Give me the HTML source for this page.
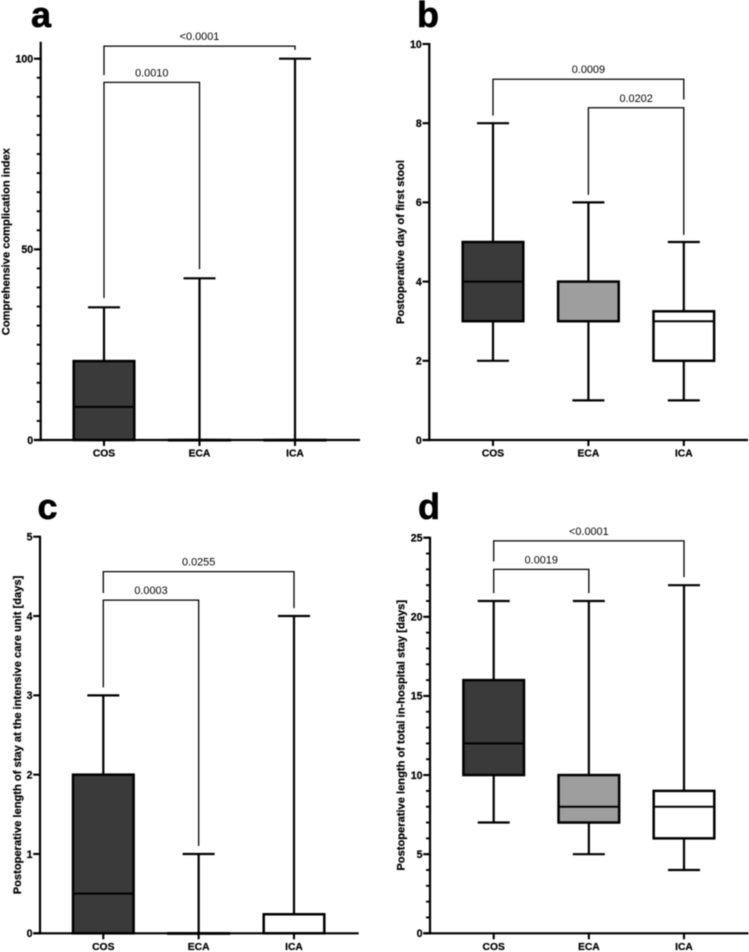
<!DOCTYPE html>
<html lang="en">
<head>
<meta charset="utf-8">
<title>Postoperative outcomes box plots</title>
<style>
  html, body { margin: 0; padding: 0; background: #fff; }
  body { width: 749px; height: 952px; overflow: hidden; }
  svg { display: block; filter: blur(0.4px); font-family: "Liberation Sans", Arial, sans-serif; }
</style>
</head>
<body>
<svg id="figure" xmlns="http://www.w3.org/2000/svg" width="749" height="952" viewBox="0 0 749 952"></svg>
<script>
// ---- shared data ----
const categories = ['COS', 'ECA', 'ICA'];
const boxFills = ['#3a3a3a', '#9e9e9e', '#ffffff'];

// ---- panel a ----
const aMin = [0, 0, 0];
const aQ1 = [0, 0, 0];
const aMedian = [8.7, 0, 0];
const aQ3 = [20.7, 0, 0];
const aMax = [34.8, 42.4, 100];
const aTicks = [0, 50, 100];
const aMinorStep = 5;
const aPValues = ['<0.0001', '0.0010'];
const aBracketFrom = [0, 0];
const aBracketTo = [2, 1];
const aBracketLevel = [103.3, 93.8];
const aBracketLeftEnd = [95.7, 37.2];
const aBracketRightEnd = [102.3, 44.8];

// ---- panel b ----
const bMin = [2, 1, 1];
const bQ1 = [3, 3, 2];
const bMedian = [4, 3, 3];
const bQ3 = [5, 4, 3.25];
const bMax = [8, 6, 5];
const bTicks = [0, 2, 4, 6, 8, 10];
const bMinorStep = 0;
const bPValues = ['0.0009', '0.0202'];
const bBracketFrom = [0, 1];
const bBracketTo = [2, 2];
const bBracketLevel = [9.11, 8.39];
const bBracketLeftEnd = [8.19, 6.19];
const bBracketRightEnd = [8.6, 5.18];

// ---- panel c ----
const cMin = [0, 0, 0];
const cQ1 = [0, 0, 0];
const cMedian = [0.5, 0, 0];
const cQ3 = [2, 0, 0.24];
const cMax = [3, 1, 4];
const cTicks = [0, 1, 2, 3, 4, 5];
const cMinorStep = 0;
const cPValues = ['0.0255', '0.0003'];
const cBracketFrom = [0, 0];
const cBracketTo = [2, 1];
const cBracketLevel = [4.56, 4.2];
const cBracketLeftEnd = [4.29, 3.1];
const cBracketRightEnd = [4.1, 1.1];

// ---- panel d ----
const dMin = [7, 5, 4];
const dQ1 = [10, 7, 6];
const dMedian = [12, 8, 8];
const dQ3 = [16, 10, 9];
const dMax = [21, 21, 22];
const dTicks = [0, 5, 10, 15, 20, 25];
const dMinorStep = 1;
const dPValues = ['<0.0001', '0.0019'];
const dBracketFrom = [0, 0];
const dBracketTo = [2, 1];
const dBracketLevel = [24.8, 23];
const dBracketLeftEnd = [23.5, 21.5];
const dBracketRightEnd = [22.5, 21.5];

// ---- panel assembly and layout ----
const panels = [
  { id: 'a', title: 'Comprehensive complication index',
    min: aMin, q1: aQ1, median: aMedian, q3: aQ3, max: aMax, ticks: aTicks, minorStep: aMinorStep,
    pValues: aPValues, from: aBracketFrom, to: aBracketTo, level: aBracketLevel, leftEnd: aBracketLeftEnd, rightEnd: aBracketRightEnd,
    axisX: 40.7, baseY: 440, topY: 58.7, axisTopY: 42.7, rightX: 360, firstCat: 104, catStep: 95.5,
    titleX: 9.5, titleY: 241.7, titleLen: 187, letterX: 31, letterY: 27, catLabelY: 456.7 },
  { id: 'b', title: 'Postoperative day of first stool',
    min: bMin, q1: bQ1, median: bMedian, q3: bQ3, max: bMax, ticks: bTicks, minorStep: bMinorStep,
    pValues: bPValues, from: bBracketFrom, to: bBracketTo, level: bBracketLevel, leftEnd: bBracketLeftEnd, rightEnd: bBracketRightEnd,
    axisX: 429.3, baseY: 440, topY: 44, axisTopY: 44, rightX: 748, firstCat: 493, catStep: 95.4,
    titleX: 404, titleY: 242, titleLen: 164, letterX: 417, letterY: 27, catLabelY: 456.7 },
  { id: 'c', title: 'Postoperative length of stay at the intensive care unit [days]',
    min: cMin, q1: cQ1, median: cMedian, q3: cQ3, max: cMax, ticks: cTicks, minorStep: cMinorStep,
    pValues: cPValues, from: cBracketFrom, to: cBracketTo, level: cBracketLevel, leftEnd: cBracketLeftEnd, rightEnd: cBracketRightEnd,
    axisX: 40, baseY: 933.3, topY: 536.7, axisTopY: 536.7, rightX: 358.7, firstCat: 103.3, catStep: 95.35,
    titleX: 21, titleY: 735, titleLen: 318.6, letterX: 37.5, letterY: 519, catLabelY: 950 },
  { id: 'd', title: 'Postoperative length of total in-hospital stay [days]',
    min: dMin, q1: dQ1, median: dMedian, q3: dQ3, max: dMax, ticks: dTicks, minorStep: dMinorStep,
    pValues: dPValues, from: dBracketFrom, to: dBracketTo, level: dBracketLevel, leftEnd: dBracketLeftEnd, rightEnd: dBracketRightEnd,
    axisX: 430, baseY: 933.3, topY: 537.7, axisTopY: 537.7, rightX: 748.5, firstCat: 493.7, catStep: 95.15,
    titleX: 404.6, titleY: 735.3, titleLen: 270.7, letterX: 418, letterY: 519, catLabelY: 950 }
];

const SVG_NS = 'http://www.w3.org/2000/svg';
const figure = document.getElementById('figure');

function shape(parent, tag, attrs) {
  const node = document.createElementNS(SVG_NS, tag);
  for (const key in attrs) node.setAttribute(key, attrs[key]);
  parent.appendChild(node);
  return node;
}

function drawPanel(p) {
  const group = shape(figure, 'g', {});
  
  

  const maxTick = p.ticks[p.ticks.length - 1];
  const yScale = v => p.baseY - (v / maxTick) * (p.baseY - p.topY);
  const xScale = i => p.firstCat + i * p.catStep;

  function line(x1, y1, x2, y2, width, name) {
    const el = shape(group, 'line', { x1: x1, y1: y1, x2: x2, y2: y2, stroke: '#000', 'stroke-width': width });
    
    
    return el;
  }

  function label(x, y, content, size, weight, anchor, name) {
    const el = shape(group, 'text', { x: x, y: y, 'font-size': size, 'font-weight': weight, 'text-anchor': anchor, fill: '#000' });
    if (weight === 'bold') {
      el.setAttribute('stroke', '#000');
      el.setAttribute('stroke-width', size > 20 ? 0.6 : 0.22);
    }
    el.textContent = content;
    
    
    return el;
  }

  // panel letter
  label(p.letterX, p.letterY, p.id, 36, 'bold', 'start', 'panel-letter-' + p.id);

  // y title
  const title = label(0, 0, p.title, 10.8, 'bold', 'middle', 'y-axis-title-' + p.id);
  title.setAttribute('transform', 'translate(' + p.titleX + ' ' + p.titleY + ') rotate(-90)');
  title.setAttribute('textLength', p.titleLen);
  title.setAttribute('lengthAdjust', 'spacingAndGlyphs');

  // minor ticks
  if (p.minorStep > 0) {
    for (let v = 0; v <= maxTick; v += p.minorStep) {
      line(p.axisX - 4, yScale(v), p.axisX, yScale(v), 1.9, 'y-minor-tick-' + p.id + '-' + v);
    }
  }

  // major ticks and labels
  p.ticks.forEach(t => {
    line(p.axisX - 6.8, yScale(t), p.axisX, yScale(t), 2.1, 'y-tick-' + p.id + '-' + t);
    label(p.axisX - 7.5, yScale(t) + 3.8, String(t), 10.6, 'bold', 'end', 'y-tick-label-' + p.id + '-' + t);
  });

  // axes
  line(p.axisX, p.baseY + 1.1, p.axisX, p.axisTopY - 1, 2.2, 'y-axis-' + p.id);
  line(p.axisX - 6.8, p.baseY, p.rightX, p.baseY, 2.2, 'x-axis-' + p.id);

  // boxes
  categories.forEach((cat, i) => {
    const cx = xScale(i);
    const tag = p.id + '-' + cat.toLowerCase();
    line(cx, p.baseY, cx, p.baseY + 6, 2.1, 'x-tick-' + tag);
    label(cx, p.catLabelY, cat, 10.3, 'bold', 'middle', 'x-tick-label-' + tag);

    line(cx, yScale(p.min[i]), cx, yScale(p.q1[i]), 2.2, 'whisker-low-' + tag);
    line(cx, yScale(p.q3[i]), cx, yScale(p.max[i]), 2.2, 'whisker-high-' + tag);
    line(cx - 16, yScale(p.min[i]), cx + 16, yScale(p.min[i]), 2.2, 'cap-low-' + tag);
    line(cx - 16, yScale(p.max[i]), cx + 16, yScale(p.max[i]), 2.2, 'cap-high-' + tag);

    const box = shape(group, 'rect', {
      x: cx - 30.3,
      y: yScale(p.q3[i]),
      width: 60.6,
      height: Math.max(yScale(p.q1[i]) - yScale(p.q3[i]), 0.3),
      fill: boxFills[i],
      stroke: '#000',
      'stroke-width': 2.5
    });
    
    

    line(cx - 30.3, yScale(p.median[i]), cx + 30.3, yScale(p.median[i]), 2, 'median-' + tag);
  });

  // significance brackets
  p.pValues.forEach((pv, i) => {
    const left = xScale(p.from[i]);
    const right = xScale(p.to[i]);
    const yLevel = yScale(p.level[i]);
    const path = shape(group, 'polyline', {
      points: left + ',' + yScale(p.leftEnd[i]) + ' ' + left + ',' + yLevel + ' ' + right + ',' + yLevel + ' ' + right + ',' + yScale(p.rightEnd[i]),
      fill: 'none',
      stroke: '#000',
      'stroke-width': 1.3
    });
    
    
    label((left + right) / 2, yLevel - 6, pv, 10.9, 'normal', 'middle', 'p-value-' + p.id + '-' + (i + 1));
  });
}

panels.forEach(drawPanel);
</script>
</body>
</html>
